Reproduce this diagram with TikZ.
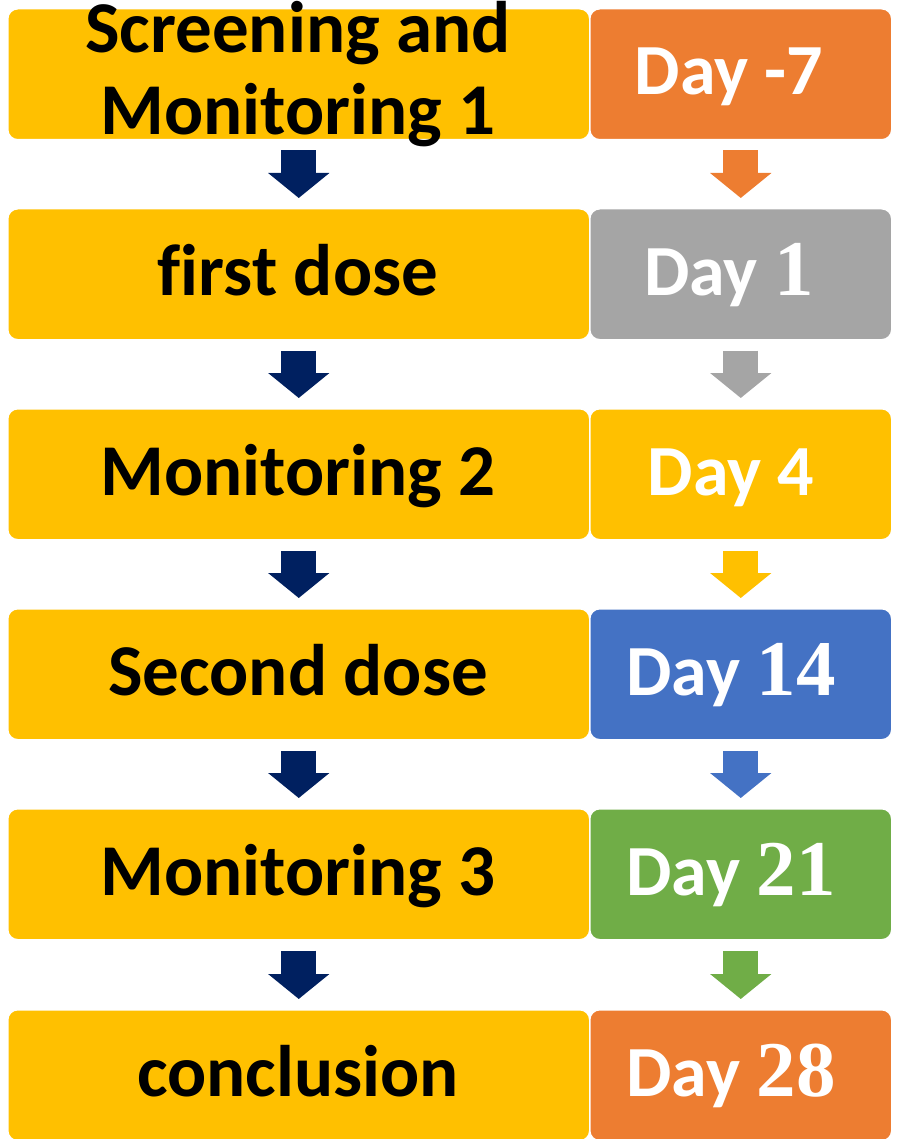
\documentclass[tikz,border=0pt]{standalone}
\usepackage{fontspec}
\setmainfont{Carlito}[Ligatures=CommonOff]
\usetikzlibrary{arrows.meta}
\definecolor{cyellow}{HTML}{FFC000}
\definecolor{corange}{HTML}{ED7D31}
\definecolor{cgray}{HTML}{A5A5A5}
\definecolor{cblue}{HTML}{4472C4}
\definecolor{cgreen}{HTML}{70AD47}
\definecolor{cnavy}{HTML}{002060}
\newcommand{\daynum}[1]{{\fontspec{Liberation Serif}\fontsize{79}{82}\selectfont\bfseries #1}}
\begin{document}
\begin{tikzpicture}[x=1pt,y=-1pt,
  box/.style={draw=white, line width=1.5pt, rounded corners=10pt, minimum height=131pt, inner sep=0pt, anchor=north west},
  leftbox/.style={box, fill=cyellow, minimum width=582pt},
  rightbox/.style={box, minimum width=302pt},
  ltext/.style={anchor=base, font=\bfseries\fontsize{73}{82}\selectfont, text=black, inner sep=0pt},
  rtext/.style={anchor=base, font=\bfseries\fontsize{72}{82}\selectfont, text=white, inner sep=0pt},
  flow/.style={line width=35pt, -{Triangle[width=60pt,length=25pt]}, shorten <=10pt, shorten >=10pt},
]
\useasboundingbox (0,0) rectangle (897,1139);
% left boxes
\node[leftbox] (L1) at (7,8) {};
\node[leftbox] (L2) at (7,208) {};
\node[leftbox] (L3) at (7,408) {};
\node[leftbox] (L4) at (7,608) {};
\node[leftbox] (L5) at (7,808) {};
\node[leftbox] (L6) at (7,1009) {};
% right boxes
\node[rightbox, fill=corange] (R1) at (589,8) {};
\node[rightbox, fill=cgray]   (R2) at (589,208) {};
\node[rightbox, fill=cyellow] (R3) at (589,408) {};
\node[rightbox, fill=cblue]   (R4) at (589,608) {};
\node[rightbox, fill=cgreen]  (R5) at (589,808) {};
\node[rightbox, fill=corange] (R6) at (589,1009) {};
% left texts
\node[ltext] (tL1) at (298,135) {\begin{tabular}[b]{@{}c@{}}Screening and\\Monitoring 1\end{tabular}};
\node[ltext] (tL2) at (298,295) {first dose};
\node[ltext] (tL3) at (298,495) {Monitoring 2};
\node[ltext] (tL4) at (298,695) {Second dose};
\node[ltext] (tL5) at (298,895) {Monitoring 3};
\node[ltext] (tL6) at (298,1096) {conclusion};
% right texts
\node[rtext] (tR1) at (729,95) {Day -7};
\node[rtext] (tR2) at (729,295) {Day \daynum{1}};
\node[rtext] (tR3) at (731,495) {Day 4};
\node[rtext] (tR4) at (731,695) {Day \daynum{14}};
\node[rtext] (tR5) at (731,895) {Day \daynum{21}};
\node[rtext] (tR6) at (731,1096) {Day \daynum{28}};
% arrows
\draw[flow, cnavy] (L1.south) -- (L2.north);
\draw[flow, cnavy] (L2.south) -- (L3.north);
\draw[flow, cnavy] (L3.south) -- (L4.north);
\draw[flow, cnavy] (L4.south) -- (L5.north);
\draw[flow, cnavy] (L5.south) -- (L6.north);
\draw[flow, corange] (R1.south) -- (R2.north);
\draw[flow, cgray]   (R2.south) -- (R3.north);
\draw[flow, cyellow] (R3.south) -- (R4.north);
\draw[flow, cblue]   (R4.south) -- (R5.north);
\draw[flow, cgreen]  (R5.south) -- (R6.north);
\end{tikzpicture}
\end{document}
